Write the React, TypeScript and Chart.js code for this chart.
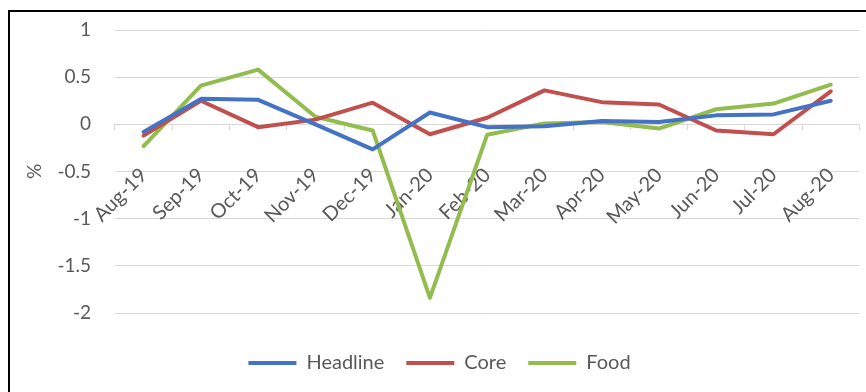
import React, { useEffect, useRef } from "react";
import { Chart, registerables } from "chart.js";

Chart.register(...registerables);

// Monthly % change by CPI component
const categories = [
  "Aug-19", "Sep-19", "Oct-19", "Nov-19", "Dec-19", "Jan-20", "Feb-20",
  "Mar-20", "Apr-20", "May-20", "Jun-20", "Jul-20", "Aug-20",
];
const headline = [-0.08, 0.27, 0.26, 0.0, -0.265, 0.125, -0.03, -0.02, 0.035, 0.025, 0.095, 0.105, 0.25];
const core = [-0.12, 0.25, -0.03, 0.05, 0.23, -0.105, 0.07, 0.36, 0.235, 0.21, -0.065, -0.105, 0.35];
const food = [-0.23, 0.41, 0.58, 0.08, -0.065, -1.84, -0.11, 0.01, 0.025, -0.045, 0.16, 0.22, 0.42];

const seriesNames = ["Headline", "Core", "Food"];
const seriesColors = ["#4472C4", "#C0504D", "#92BD4E"];

const yMin = -2;
const yMax = 1;
const yStep = 0.5;
const yTitle = "%";

const FONT = "Lato";
const TEXT = "#595959";
const GRID = "#d9d9d9";
const CLEAR = "rgba(0,0,0,0)";

export default function App() {
  const canvasRef = useRef<HTMLCanvasElement | null>(null);

  useEffect(() => {
    if (!canvasRef.current) return;
    const values = [headline, core, food];
    const chart = new Chart(canvasRef.current, {
      type: "line",
      data: {
        labels: categories,
        datasets: seriesNames.map((name, i) => ({
          label: name,
          data: values[i],
          borderColor: seriesColors[i],
          backgroundColor: seriesColors[i],
          borderWidth: 4,
          borderJoinStyle: "round" as const,
          borderCapStyle: "round" as const,
          pointRadius: 0,
          tension: 0,
        })),
      },
      options: {
        animation: false,
        responsive: false,
        maintainAspectRatio: false,
        layout: { padding: { left: 9.6, right: 9.6, top: 18, bottom: 9 } },
        scales: {
          // category axis drawn along the zero line, labels hanging below it
          x: {
            type: "category",
            offset: true,
            position: { y: 0 },
            grid: {
              offset: true,
              drawOnChartArea: false,
              drawTicks: true,
              tickLength: 20,
              tickColor: CLEAR,
            },
            border: { display: true, color: GRID, width: 1 },
            ticks: {
              autoSkip: false,
              minRotation: 45,
              maxRotation: 45,
              padding: 19,
              color: TEXT,
              font: { family: FONT, size: 20 },
            },
          },
          // short tick marks between categories on the zero line
          xTicks: {
            type: "category",
            axis: "x",
            offset: true,
            position: { y: 0 },
            grid: {
              offset: true,
              drawOnChartArea: false,
              drawTicks: true,
              tickLength: 6,
              color: GRID,
            },
            border: { display: false },
            ticks: { display: false, autoSkip: false },
          },
          y: {
            min: yMin,
            max: yMax,
            // invisible tick marks keep a gap between the labels and the plot
            grid: { color: GRID, drawTicks: true, tickLength: 20, tickColor: CLEAR },
            border: { display: false },
            ticks: {
              stepSize: yStep,
              padding: 4,
              color: TEXT,
              font: { family: FONT, size: 19 },
              callback: (v) => String(v),
            },
            title: {
              display: true,
              text: yTitle,
              color: TEXT,
              font: { family: FONT, size: 19 },
              padding: { top: 4, bottom: 7 },
            },
          },
        },
        plugins: {
          tooltip: { enabled: false },
          legend: {
            position: "bottom",
            // empty title only adds space above the legend row
            title: {
              display: true,
              text: "",
              padding: 0,
              font: { family: FONT, size: 15, lineHeight: 1.2 },
            },
            labels: {
              usePointStyle: true,
              pointStyle: "line",
              pointStyleWidth: 48,
              padding: 22,
              color: TEXT,
              font: { family: FONT, size: 20 },
            },
          },
        },
      },
    });
    return () => chart.destroy();
  }, []);

  return (
    <div style={{ position: "fixed", left: 0, top: 0, width: 866, height: 392, background: "#fff", overflow: "hidden" }}>
      <div
        style={{
          position: "absolute",
          left: 8,
          top: 10,
          width: 900,
          height: 420,
          borderLeft: "2px solid #000",
          borderTop: "2px solid #000",
        }}
      />
      <canvas
        ref={canvasRef}
        width={859}
        height={380}
        style={{ position: "absolute", left: 10, top: 12, width: 859, height: 380 }}
      />
    </div>
  );
}
